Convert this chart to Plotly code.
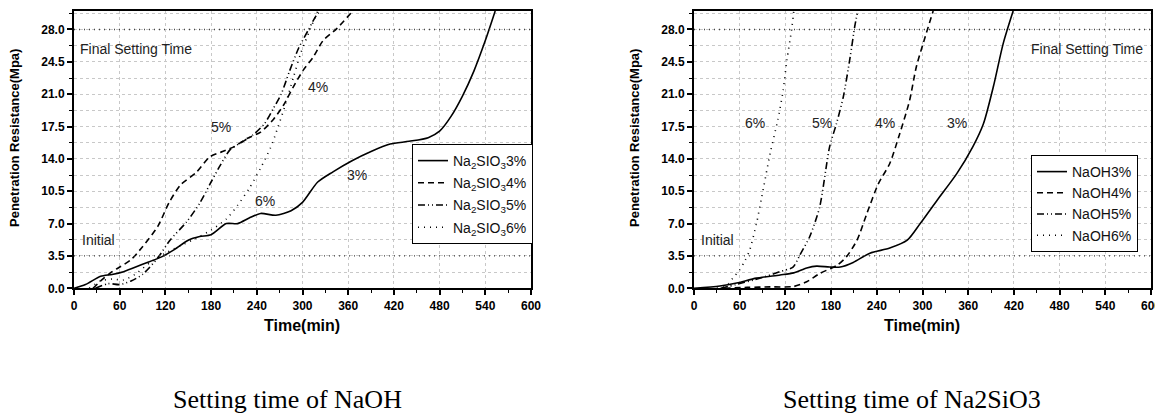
import plotly.graph_objects as go

# ---------------- data: left panel (Na2SiO3 legend) ----------------
L3_x = [0, 15, 35, 50, 65, 90, 115, 130, 150, 165, 180, 200, 215, 230, 245, 265, 285, 300, 320, 340, 365, 390, 415, 440, 465, 480, 495, 510, 525, 540, 553]
L3_y = [0, 0.4, 1.3, 1.5, 1.8, 2.6, 3.4, 4.1, 5.2, 5.6, 5.8, 7.0, 7.0, 7.6, 8.1, 7.9, 8.4, 9.3, 11.5, 12.6, 13.8, 14.8, 15.6, 15.9, 16.3, 17.0, 18.6, 20.8, 23.5, 26.8, 30]
L4_x = [25, 35, 50, 60, 75, 90, 110, 125, 140, 160, 178, 195, 210, 227, 245, 262, 275, 288, 301, 314, 327, 345, 366]
L4_y = [0, 0.8, 1.8, 2.3, 3.1, 4.5, 6.7, 9.3, 11.2, 12.5, 14.2, 14.8, 15.3, 16.2, 16.9, 18.3, 19.8, 21.8, 23.6, 25.0, 26.8, 28.1, 30]
L5_x = [28, 45, 60, 75, 90, 110, 126, 148, 165, 180, 192, 205, 220, 235, 250, 262, 272, 283, 295, 308, 318, 324]
L5_y = [0, 0.5, 0.4, 0.8, 1.5, 3.3, 5.2, 7.2, 9.2, 11.5, 13.3, 15.0, 15.8, 16.6, 17.8, 19.5, 21.0, 23.5, 26.0, 28.0, 29.5, 30]
L6_x = [20, 35, 50, 65, 80, 100, 120, 140, 160, 180, 200, 215, 230, 245, 258, 268, 278, 288, 298, 310, 320]
L6_y = [0, 0.8, 1.0, 0.9, 1.5, 2.8, 3.8, 4.6, 5.4, 6.3, 7.5, 9.0, 10.8, 13.0, 15.2, 17.5, 20.0, 22.8, 25.5, 28.0, 30]

# ---------------- data: right panel (NaOH legend) ----------------
R3_x = [0, 34, 56, 82, 113, 131, 148, 161, 178, 192, 209, 231, 257, 280, 297, 319, 345, 366, 380, 393, 406, 419]
R3_y = [0, 0.25, 0.57, 1.1, 1.44, 1.67, 2.2, 2.4, 2.3, 2.3, 2.8, 3.8, 4.35, 5.2, 7.0, 9.5, 12.4, 15.3, 17.8, 21.8, 26.5, 30]
R4_x = [40, 70, 100, 131, 148, 165, 188, 200, 214, 227, 242, 257, 270, 283, 292, 305, 314]
R4_y = [0, 0.1, 0.15, 0.2, 0.7, 1.6, 2.5, 3.4, 5.2, 8.1, 11.3, 13.5, 16.7, 20.3, 24.0, 27.6, 30]
R5_x = [35, 55, 78, 95, 113, 130, 139, 152, 165, 178, 187, 196, 205, 211, 215]
R5_y = [0, 0.4, 0.9, 1.3, 1.8, 2.3, 3.6, 5.6, 8.8, 15.3, 17.8, 20.7, 25.0, 28.3, 30]
R6_x = [30, 45, 51, 60, 67, 73, 82, 89, 100, 110, 117, 122, 128, 131]
R6_y = [0, 0.5, 1.1, 2.0, 3.0, 4.1, 7.0, 9.9, 14.6, 18.2, 21.4, 24.7, 27.9, 30]

left_names = ["Na<sub>2</sub>SIO<sub>3</sub>3%", "Na<sub>2</sub>SIO<sub>3</sub>4%",
              "Na<sub>2</sub>SIO<sub>3</sub>5%", "Na<sub>2</sub>SIO<sub>3</sub>6%"]
right_names = ["NaOH3%", "NaOH4%", "NaOH5%", "NaOH6%"]

x_ticks = [0, 60, 120, 180, 240, 300, 360, 420, 480, 540, 600]
y_ticks = [0.0, 3.5, 7.0, 10.5, 14.0, 17.5, 21.0, 24.5, 28.0]
ref_levels = [28.0, 3.5]

dashes = ["solid", "6px,4px", "7px,3px,1px,3px,1px,3px", "1px,5px"]

fig = go.Figure()
left_series = [(L3_x, L3_y), (L4_x, L4_y), (L5_x, L5_y), (L6_x, L6_y)]
right_series = [(R3_x, R3_y), (R4_x, R4_y), (R5_x, R5_y), (R6_x, R6_y)]
for i, ((xs, ys), nm, d) in enumerate(zip(left_series, left_names, dashes)):
    fig.add_trace(go.Scatter(x=xs, y=ys, name=nm, mode="lines", xaxis="x", yaxis="y",
                             line=dict(color="black", width=1.6, dash=d, shape="spline", smoothing=0.7),
                             legend="legend", legendgroup="L%d" % i))
for i, ((xs, ys), nm, d) in enumerate(zip(right_series, right_names, dashes)):
    fig.add_trace(go.Scatter(x=xs, y=ys, name=nm, mode="lines", xaxis="x2", yaxis="y2",
                             line=dict(color="black", width=1.6, dash=d, shape="spline", smoothing=0.7),
                             legend="legend2", legendgroup="R%d" % i))

# page has an 8px body margin; work in window pixel coordinates
OFF = 8
W, H = 1163 - OFF, 414 - OFF
def px(xp): return (xp - OFF) / W
def py(yp): return 1 - (yp - OFF) / H

tickfont = dict(family="Arial", size=12, color="black", weight="bold")

def xax(dom, anchor):
    return dict(domain=dom, anchor=anchor, range=[0, 600], tickvals=x_ticks, automargin=False,
                tickfont=tickfont, showline=True, linecolor="black", linewidth=2, mirror=True,
                ticks="outside", ticklen=5, tickwidth=1.5, tickcolor="black",
                showgrid=True, gridcolor="#c8c8c8", griddash="dot", gridwidth=1,
                zeroline=False,
                minor=dict(dtick=30, ticks="outside", ticklen=3, tickwidth=1, tickcolor="black", showgrid=False))

def yax(anchor):
    return dict(domain=[py(288.3), py(11)], anchor=anchor, range=[0, 30], tickvals=y_ticks,
                automargin=False,
                tickformat=".1f", tickfont=tickfont, showline=True, linecolor="black", linewidth=2,
                mirror=True, ticks="outside", ticklen=5, tickwidth=1.5, tickcolor="black",
                showgrid=True, gridcolor="#c8c8c8", griddash="dot", gridwidth=1, zeroline=False,
                minor=dict(dtick=1.75, tick0=0, ticks="outside", ticklen=3, tickwidth=1, tickcolor="black",
                           showgrid=True, gridcolor="#c8c8c8", griddash="dot", gridwidth=1))

shapes = []
for xr, yr in (("x", "y"), ("x2", "y2")):
    for lv in ref_levels:
        shapes.append(dict(type="line", xref=xr, yref=yr, x0=0, x1=600, y0=lv, y1=lv,
                           line=dict(color="#444", width=1.3, dash="1px,4px")))

annfont = dict(family="Arial", size=14, color="#222")
anns = []
def txt(x, y, s, **kw):
    d = dict(x=px(x), y=py(y), xref="paper", yref="paper", text=s, showarrow=False, font=annfont,
             xanchor="center", yanchor="middle")
    d.update(kw)
    anns.append(d)

# left panel labels
txt(78, 49, "Final Setting Time", xanchor="left")
txt(80, 240, "Initial", xanchor="left")
txt(221, 127, "5%")
txt(318, 87, "4%")
txt(357, 175, "3%")
txt(265, 201, "6%")
# right panel labels
txt(1145, 49, "Final Setting Time", xanchor="right")
txt(699, 240, "Initial", xanchor="left")
txt(755, 123, "6%")
txt(822, 123, "5%")
txt(885, 123, "4%")
txt(957, 123, "3%")
# axis titles
ytfont = dict(family="Arial", size=13, color="black", weight="bold")
txt(15, 138, "Penetration Resistance(Mpa)", textangle=-90, font=ytfont)
txt(635, 138, "Penetration Resistance(Mpa)", textangle=-90, font=ytfont)
xtfont = dict(family="Arial", size=16, color="black", weight="bold")
txt(302, 325, "Time(min)", font=xtfont)
txt(922, 325, "Time(min)", font=xtfont)
# captions
capfont = dict(family="Liberation Serif", size=26, color="black")
txt(287, 399, "Setting time of NaOH", font=capfont)
txt(912, 399, "Setting time of Na2SiO3", font=capfont)

legfont = dict(family="Arial", size=14, color="#111")
fig.update_layout(
    width=W, height=H, margin=dict(l=0, r=0, t=0, b=0, autoexpand=False),
    paper_bgcolor="white", plot_bgcolor="white",
    xaxis=xax([px(74), px(531)], "y"), yaxis=yax("x"),
    xaxis2=xax([px(694), px(1151)], "y2"), yaxis2=yax("x2"),
    shapes=shapes, annotations=anns, showlegend=True,
    legend=dict(x=px(412), y=py(144), xanchor="left", yanchor="top", bgcolor="white",
                bordercolor="black", borderwidth=1, font=legfont, tracegroupgap=1),
    legend2=dict(x=px(1031), y=py(155), xanchor="left", yanchor="top", bgcolor="white",
                 bordercolor="black", borderwidth=1, font=legfont, tracegroupgap=0),
)

fig.write_html("out.html")
